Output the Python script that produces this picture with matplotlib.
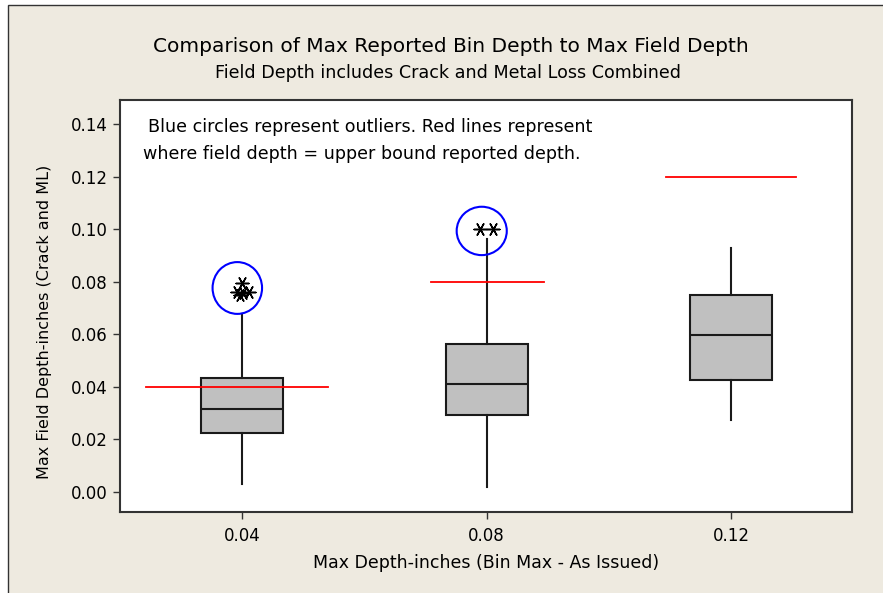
import matplotlib
matplotlib.use("Agg")
import matplotlib.pyplot as plt
from matplotlib.patches import Ellipse, Rectangle

# ---- data ----
categories = [0.04, 0.08, 0.12]
tick_labels = ["0.04", "0.08", "0.12"]
q1 = [0.0223, 0.0293, 0.0427]
median = [0.0316, 0.0411, 0.0599]
q3 = [0.0435, 0.0563, 0.0749]
whislo = [0.0029, 0.0019, 0.0274]
whishi = [0.0677, 0.0961, 0.0927]

outlier_x = [0.0400, 0.0392, 0.0402, 0.0411, 0.0397, 0.0789, 0.0810]
outlier_y = [0.0794, 0.0762, 0.0758, 0.0762, 0.0750, 0.1000, 0.1000]

upper_bound = [0.04, 0.08, 0.12]
bound_x0 = [0.0242, 0.0709, 0.1093]
bound_x1 = [0.0540, 0.0894, 0.1306]

circle_x = [0.0392, 0.0792]
circle_y = [0.0776, 0.0993]
circle_w = [0.0081, 0.0082]
circle_h = [0.0197, 0.0184]

yticks = [0.00, 0.02, 0.04, 0.06, 0.08, 0.10, 0.12, 0.14]

W, H = 883, 593
BG = "#EEEAE0"
fig = plt.figure(figsize=(W / 100, H / 100), dpi=100, facecolor="white")
fig.patches.append(Rectangle((8 / W, -0.01), 1.02, (H - 5) / H + 0.01,
                             transform=fig.transFigure, facecolor=BG,
                             edgecolor="#333333", linewidth=1.0, zorder=-10))

ax = fig.add_axes([120 / W, (H - 512) / H, (852 - 120) / W, (512 - 100) / H])
ax.set_facecolor("white")

stats = []
for i in range(len(categories)):
    stats.append(dict(med=median[i], q1=q1[i], q3=q3[i],
                      whislo=whislo[i], whishi=whishi[i], fliers=[]))
ax.bxp(stats, positions=categories, widths=0.0134, showcaps=False,
       showfliers=False, patch_artist=True,
       boxprops=dict(facecolor="#C0C0C0", edgecolor="#1a1a1a", linewidth=1.5),
       medianprops=dict(color="#1a1a1a", linewidth=1.5),
       whiskerprops=dict(color="#1a1a1a", linewidth=1.5), zorder=2)

ax.scatter(outlier_x, outlier_y, marker=(6, 2, 90), s=85, color="black",
           linewidths=1.1, zorder=4)

for xb0, xb1, yb in zip(bound_x0, bound_x1, upper_bound):
    ax.plot([xb0, xb1], [yb, yb], color="red", linewidth=1.3, zorder=3)

for cx, cy, cw, ch in zip(circle_x, circle_y, circle_w, circle_h):
    ax.add_patch(Ellipse((cx, cy), cw, ch, fill=False, edgecolor="blue",
                         linewidth=1.5, zorder=5))

ax.set_xlim(0.0200, 0.1398)
ax.set_ylim(-0.0076, 0.1491)
ax.set_xticks(categories)
ax.set_xticklabels(tick_labels)
ax.set_yticks(yticks)
ax.set_yticklabels([f"{v:.2f}" for v in yticks])
ax.tick_params(direction="out", length=5, width=1, color="#333333",
               labelsize=12, pad=4)
ax.tick_params(axis="x", pad=6)
for s in ax.spines.values():
    s.set_color("#333333")
    s.set_linewidth(1.5)

ax.set_xlabel("Max Depth-inches (Bin Max - As Issued)", fontsize=12.5)
ax.xaxis.set_label_coords((486 - 120) / 732, (512 - 563) / 412)
ax.xaxis.label.set_va("center")
ax.set_ylabel("Max Field Depth-inches (Crack and ML)", fontsize=11.5)
ax.yaxis.set_label_coords((45 - 120) / 732, (512 - 322) / 412)
ax.yaxis.label.set_va("center")

fig.text(451 / W, 1 - 47 / H, "Comparison of Max Reported Bin Depth to Max Field Depth",
         ha="center", va="center", fontsize=14.5)
fig.text(448 / W, 1 - 73 / H, "Field Depth includes Crack and Metal Loss Combined",
         ha="center", va="center", fontsize=12.6)
fig.text(148 / W, 1 - 127 / H, "Blue circles represent outliers. Red lines represent",
         ha="left", va="center", fontsize=12.6)
fig.text(143 / W, 1 - 154 / H, "where field depth = upper bound reported depth.",
         ha="left", va="center", fontsize=12.6)

fig.savefig("out.png", dpi=100, facecolor=fig.get_facecolor())
